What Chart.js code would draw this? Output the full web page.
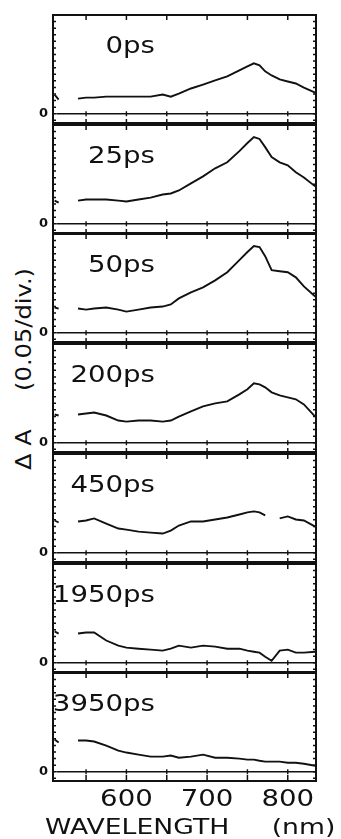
<!DOCTYPE html>
<html>
<head>
<meta charset="utf-8">
<title>Transient absorption spectra</title>
<script src="https://cdn.jsdelivr.net/npm/chart.js@4.4.1/dist/chart.umd.min.js"></script>
<style>
  html, body { margin: 0; padding: 0; background: #fff; }
  #fig { position: relative; width: 341px; height: 839px; overflow: hidden; }
  #fig canvas { position: absolute; left: 0; }
  #ytitle {
    position: absolute; left: 24px; top: 369px;
    transform: translate(-50%, -50%) rotate(-90deg) scaleX(1.15);
    font: 21px "DejaVu Sans", sans-serif; color: #111;
    white-space: pre; line-height: 1;
  }
</style>
</head>
<body>
<div id="fig">
  <div id="ytitle">Δ A     (0.05/div.)</div>
</div>
<script>
// wavelength grid (nm); the null at 530 splits off the short stub at the blue edge
const wavelengths = [511, 516, 530, 540, 550, 560, 575, 590, 600, 615, 630, 645, 655, 665,
  680, 695, 710, 725, 740, 750, 758, 765, 772, 780, 790, 800, 810, 820, 834];

const delays = ["0ps", "25ps", "50ps", "200ps", "450ps", "1950ps", "3950ps"];

// ΔA at each delay
const dA0 = [0.146, 0.107, null, 0.115, 0.123, 0.123, 0.130, 0.130, 0.130, 0.130, 0.130, 0.146, 0.130, 0.153,
  0.192, 0.222, 0.253, 0.284, 0.330, 0.360, 0.383, 0.368, 0.322, 0.291, 0.261, 0.245, 0.230, 0.199, 0.161];
const dA25 = [0.176, 0.161, null, 0.176, 0.184, 0.184, 0.184, 0.176, 0.169, 0.184, 0.199, 0.222, 0.230, 0.253,
  0.307, 0.360, 0.421, 0.467, 0.552, 0.613, 0.659, 0.644, 0.582, 0.506, 0.467, 0.444, 0.391, 0.352, 0.284];
const dA50 = [0.192, 0.184, null, 0.184, 0.176, 0.184, 0.192, 0.176, 0.161, 0.176, 0.192, 0.199, 0.215, 0.261,
  0.307, 0.345, 0.398, 0.460, 0.552, 0.613, 0.659, 0.651, 0.582, 0.475, 0.467, 0.460, 0.421, 0.352, 0.276];
const dA200 = [0.215, 0.207, null, 0.215, 0.222, 0.230, 0.207, 0.169, 0.161, 0.169, 0.169, 0.161, 0.169, 0.199,
  0.238, 0.276, 0.299, 0.314, 0.368, 0.406, 0.452, 0.444, 0.421, 0.383, 0.360, 0.345, 0.330, 0.291, 0.199];
const dA450 = [0.245, 0.230, null, 0.238, 0.245, 0.261, 0.222, 0.184, 0.176, 0.161, 0.153, 0.146, 0.169, 0.207,
  0.238, 0.238, 0.253, 0.268, 0.291, 0.307, 0.314, 0.307, 0.284, null, 0.261, 0.276, 0.253, 0.245, 0.199];
const dA1950 = [0.238, 0.222, null, 0.222, 0.230, 0.230, 0.169, 0.130, 0.115, 0.107, 0.100, 0.092, 0.107, 0.130,
  0.115, 0.130, 0.123, 0.107, 0.107, 0.092, 0.084, 0.077, 0.046, 0.015, 0.092, 0.100, 0.077, 0.077, 0.084];
const dA3950 = [0.245, 0.222, null, 0.238, 0.238, 0.230, 0.199, 0.161, 0.146, 0.130, 0.115, 0.115, 0.123, 0.107,
  0.115, 0.130, 0.107, 0.107, 0.100, 0.092, 0.092, 0.084, 0.077, 0.077, 0.077, 0.069, 0.069, 0.061, 0.046];

const spectra = [dA0, dA25, dA50, dA200, dA450, dA1950, dA3950];

// axis ticks
const xTicks = [550, 600, 650, 700, 750, 800];
const xTickLabels = [600, 700, 800];
const yTicks = [-0.05, 0, 0.05, 0.1, 0.15, 0.2, 0.25, 0.3, 0.35, 0.4, 0.45, 0.5, 0.55, 0.6, 0.65, 0.7];

const INK = "#111";
const FONT = '"DejaVu Sans", sans-serif';

function stretchedText(ctx, text, x, y, sx, align) {
  ctx.save();
  ctx.translate(x, y);
  ctx.scale(sx, 1);
  ctx.textAlign = align;
  ctx.fillText(text, 0, 0);
  ctx.restore();
}

// frame with inward ticks, zero line, panel label and (bottom panel) the wavelength axis
const panelFrame = {
  id: "panelFrame",
  afterDatasetsDraw(chart, args, opts) {
    const { ctx, chartArea: a } = chart;
    const x = chart.scales.x, y = chart.scales.y;
    ctx.save();
    ctx.strokeStyle = INK;
    ctx.fillStyle = INK;

    ctx.lineWidth = 2;
    ctx.strokeRect(a.left, a.top, a.right - a.left, a.bottom - a.top);

    ctx.lineWidth = 1.5;
    ctx.beginPath();
    xTicks.forEach((v) => {
      const px = x.getPixelForValue(v);
      ctx.moveTo(px, a.top); ctx.lineTo(px, a.top + 5);
      ctx.moveTo(px, a.bottom); ctx.lineTo(px, a.bottom - (opts.axis ? 6 : 4));
    });
    yTicks.forEach((v) => {
      const py = y.getPixelForValue(v);
      ctx.moveTo(a.left, py); ctx.lineTo(a.left + 3, py);
      ctx.moveTo(a.right, py); ctx.lineTo(a.right - 3, py);
    });
    ctx.stroke();

    // zero line with crossing marks
    const zy = y.getPixelForValue(0);
    ctx.lineWidth = 1.4;
    ctx.beginPath();
    ctx.moveTo(x.getPixelForValue(513), zy);
    ctx.lineTo(a.right, zy);
    xTicks.forEach((v) => {
      const px = x.getPixelForValue(v);
      ctx.moveTo(px, zy - 2.5); ctx.lineTo(px, zy + 2.5);
    });
    ctx.stroke();

    ctx.font = "bold 13px " + FONT;
    ctx.textBaseline = "middle";
    ctx.textAlign = "right";
    ctx.fillText("0", a.left - 5, zy);

    ctx.textBaseline = "alphabetic";
    ctx.font = "23px " + FONT;
    stretchedText(ctx, opts.label, 155, a.top + 38, 1.2, "right");

    if (opts.axis) {
      xTickLabels.forEach((v) => {
        stretchedText(ctx, String(v), x.getPixelForValue(v), a.bottom + 25, 1.2, "center");
      });
      ctx.font = "21px " + FONT;
      stretchedText(ctx, "WAVELENGTH     (nm)", 45, a.bottom + 53, 1.27, "left");
    }
    ctx.restore();
  },
};

const fig = document.getElementById("fig");
const PAD_TOP = 3;

spectra.forEach((values, i) => {
  const last = i === spectra.length - 1;
  const top = Math.round(15 + i * 109.7);
  const plotH = 108;
  const padBottom = last ? 839 - (top + plotH) : 3;

  const canvas = document.createElement("canvas");
  canvas.width = 341;
  canvas.height = PAD_TOP + plotH + padBottom;
  canvas.style.top = top - PAD_TOP + "px";
  fig.appendChild(canvas);

  new Chart(canvas.getContext("2d"), {
    type: "line",
    data: {
      labels: wavelengths,
      datasets: [{
        label: delays[i],
        data: values,
        borderColor: INK,
        borderWidth: 1.9,
        pointRadius: 0,
        tension: 0,
        spanGaps: false,
      }],
    },
    options: {
      responsive: false,
      animation: false,
      devicePixelRatio: 1,
      layout: { padding: { left: 53, right: 25, top: PAD_TOP, bottom: padBottom } },
      scales: {
        x: { type: "linear", min: 509, max: 835, display: false },
        y: { min: -0.07, max: 0.75, display: false },
      },
      plugins: {
        legend: { display: false },
        tooltip: { enabled: false },
        panelFrame: { label: delays[i], axis: last },
      },
    },
    plugins: [panelFrame],
  });
});
</script>
</body>
</html>
